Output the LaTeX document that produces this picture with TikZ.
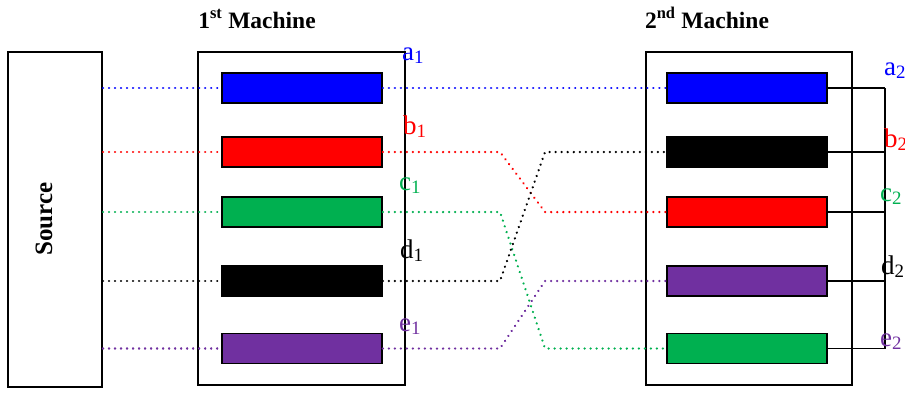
\documentclass[tikz,border=0pt]{standalone}
\usepackage{fontspec}
\setmainfont{Liberation Serif}
\definecolor{cgreen}{RGB}{0,176,80}
\definecolor{cpurple}{RGB}{112,48,160}
\definecolor{cblue}{RGB}{0,0,255}
\definecolor{cred}{RGB}{255,0,0}
\begin{document}
\begin{tikzpicture}[x=1pt,y=-1pt,
  frame/.style={draw, line width=2pt, inner sep=0pt, fill=white},
  bar/.style={draw, line width=1.8pt, inner sep=0pt, minimum width=160pt, minimum height=30pt},
  dots/.style={line width=2.5pt, dash pattern=on 0.01pt off 6pt, line cap=round},
  wire/.style={line width=1.4pt},
  lbl/.style={anchor=base west, inner sep=0pt, font=\fontsize{27}{27}\selectfont},
  title/.style={font=\bfseries\fontsize{23.5}{23.5}\selectfont, inner sep=0pt}
]
\useasboundingbox (0,0) rectangle (905,392);

% frames
\node[frame, minimum width=94pt, minimum height=335pt] (src) at (55,219.5) {};
\node[frame, minimum width=207pt, minimum height=333pt] (m1) at (301.5,218.5) {};
\node[frame, minimum width=206pt, minimum height=333pt] (m2) at (749,218.5) {};

\node[title, rotate=90, font=\bfseries\fontsize{25}{25}\selectfont] (srct) at (44,219) {Source};
\node[title, anchor=base] (t1) at (257,28) {1\textsuperscript{st} Machine};
\node[title, anchor=base] (t2) at (707,28) {2\textsuperscript{nd} Machine};

% bars machine 1
\node[bar, fill=cblue]   (L1) at (302,88) {};
\node[bar, fill=cred]    (L2) at (302,152) {};
\node[bar, fill=cgreen]  (L3) at (302,212) {};
\node[bar, fill=black]   (L4) at (302,281) {};
\node[bar, fill=cpurple] (L5) at (302,348.5) {};
% bars machine 2
\node[bar, fill=cblue]   (R1) at (747,88) {};
\node[bar, fill=black]   (R2) at (747,152) {};
\node[bar, fill=cred]    (R3) at (747,212) {};
\node[bar, fill=cpurple] (R4) at (747,281) {};
\node[bar, fill=cgreen]  (R5) at (747,348.5) {};

\coordinate (xa) at (500,0);
\coordinate (xb) at (545,0);
\coordinate (bus) at (885,0);

% source to machine 1
\draw[dots, cblue]   (src.east |- L1.west) -- (L1.west);
\draw[dots, cred]    (src.east |- L2.west) -- (L2.west);
\draw[dots, cgreen]  (src.east |- L3.west) -- (L3.west);
\draw[dots, black]   (src.east |- L4.west) -- (L4.west);
\draw[dots, cpurple] (src.east |- L5.west) -- (L5.west);

% machine 1 to machine 2
\draw[dots, cblue]   (L1.east) -- (R1.west);
\draw[dots, cred]    (L2.east) -- (L2.east -| xa) -- (R3.west -| xb) -- (R3.west);
\draw[dots, cgreen]  (L3.east) -- (L3.east -| xa) -- (R5.west -| xb) -- (R5.west);
\draw[dots, black]   (L4.east) -- (L4.east -| xa) -- (R2.west -| xb) -- (R2.west);
\draw[dots, cpurple] (L5.east) -- (L5.east -| xa) -- (R4.west -| xb) -- (R4.west);

% output wires
\draw[wire] (R1.east) -- (R1.east -| bus);
\draw[wire] (R2.east) -- (R2.east -| bus);
\draw[wire] (R3.east) -- (R3.east -| bus);
\draw[wire] (R4.east) -- (R4.east -| bus);
\draw[wire] (R5.east) -- (R5.east -| bus);
\draw[wire] (R1.east -| bus) -- (R5.east -| bus);

% labels
\node[lbl, text=cblue]   (a1) at (402,60)  {a\textsubscript{1}};
\node[lbl, text=cred]    (b1) at (403,134) {b\textsubscript{1}};
\node[lbl, text=cgreen]  (c1) at (399,190) {c\textsubscript{1}};
\node[lbl, text=black]   (d1) at (400,258) {d\textsubscript{1}};
\node[lbl, text=cpurple] (e1) at (399,331) {e\textsubscript{1}};
\node[lbl, text=cblue]   (a2) at (884,75)  {a\textsubscript{2}};
\node[lbl, text=cred]    (b2) at (884,147) {b\textsubscript{2}};
\node[lbl, text=cgreen]  (c2) at (880,201) {c\textsubscript{2}};
\node[lbl, text=black]   (d2) at (881,274) {d\textsubscript{2}};
\node[lbl, text=cpurple] (e2) at (880,346) {e\textsubscript{2}};
\end{tikzpicture}
\end{document}
